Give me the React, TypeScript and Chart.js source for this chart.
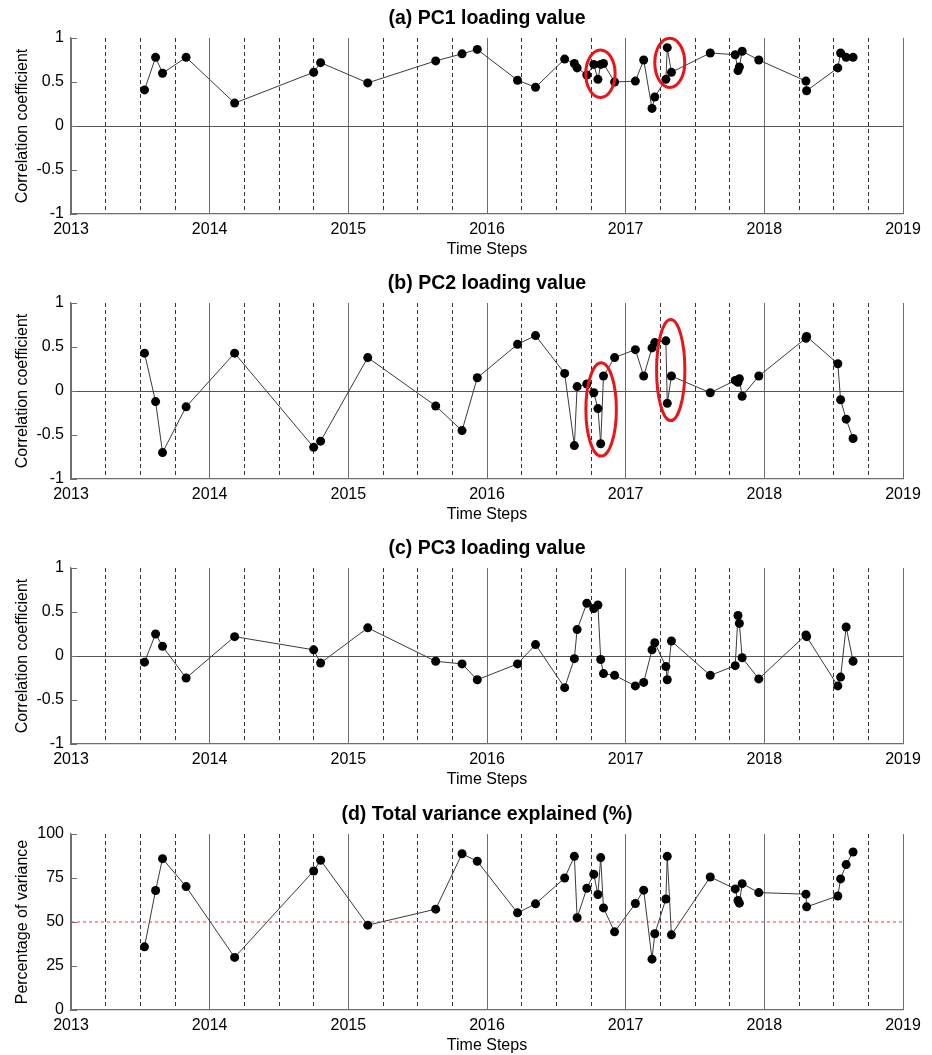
import React, { useEffect, useRef } from "react";
import { Chart, registerables } from "chart.js";

Chart.register(...registerables);

const FONT = "'Liberation Sans', Arial, Helvetica, sans-serif";

// Sampling dates (decimal years)
const dates = [
  2013.53, 2013.61, 2013.66, 2013.83, 2014.18, 2014.75, 2014.8, 2015.14, 2015.63, 2015.82, 2015.93,
  2016.22, 2016.35, 2016.56, 2016.63, 2016.65, 2016.72, 2016.77, 2016.8, 2016.82, 2016.84, 2016.92,
  2017.07, 2017.13, 2017.19, 2017.21, 2017.29, 2017.3, 2017.33, 2017.61, 2017.79, 2017.81, 2017.82,
  2017.84, 2017.96, 2018.3, 2018.305, 2018.53, 2018.55, 2018.59, 2018.64,
];

const pc1 = [
  0.41, 0.78, 0.6, 0.78, 0.26, 0.61, 0.72, 0.49, 0.74, 0.82, 0.87,
  0.52, 0.44, 0.76, 0.71, 0.66, 0.58, 0.7, 0.53, 0.7, 0.71, 0.5,
  0.51, 0.75, 0.2, 0.33, 0.53, 0.89, 0.61, 0.83, 0.81, 0.63, 0.67,
  0.85, 0.75, 0.51, 0.4, 0.66, 0.83, 0.78, 0.78,
];

const pc2 = [
  0.43, -0.12, -0.7, -0.18, 0.43, -0.64, -0.57, 0.38, -0.17, -0.45, 0.15,
  0.53, 0.63, 0.2, -0.62, 0.05, 0.08, -0.02, -0.2, -0.6, 0.17, 0.38,
  0.47, 0.17, 0.49, 0.55, 0.57, -0.14, 0.17, -0.02, 0.12, 0.1, 0.14,
  -0.06, 0.17, 0.6, 0.62, 0.31, -0.1, -0.32, -0.54,
];

const pc3 = [
  -0.07, 0.25, 0.11, -0.25, 0.22, 0.07, -0.08, 0.32, -0.06, -0.09, -0.27,
  -0.09, 0.13, -0.36, -0.03, 0.3, 0.6, 0.54, 0.58, -0.04, -0.2, -0.22,
  -0.34, -0.3, 0.07, 0.15, -0.12, -0.27, 0.17, -0.22, -0.11, 0.46, 0.37,
  -0.02, -0.26, 0.24, 0.22, -0.34, -0.24, 0.33, -0.06,
];

const varianceExplained = [
  35.9, 67.9, 86.0, 70.1, 29.9, 79.0, 85.1, 48.2, 57.3, 88.8, 84.5,
  55.2, 60.3, 75.0, 87.3, 52.4, 69.2, 77.1, 65.6, 86.6, 58.0, 44.4,
  60.5, 68.1, 28.9, 43.3, 63.1, 87.3, 42.7, 75.6, 68.8, 62.2, 60.7,
  71.8, 66.7, 65.8, 58.6, 64.8, 74.5, 82.6, 89.8,
];

const varianceThreshold = 50;

// x grid / tick positions (years solid, quarters dashed)
const xTickValues = [
  2013, 2013.25, 2013.5, 2013.75, 2014, 2014.25, 2014.5, 2014.75, 2015, 2015.25, 2015.5, 2015.75,
  2016, 2016.25, 2016.5, 2016.75, 2017, 2017.25, 2017.5, 2017.75, 2018, 2018.25, 2018.5, 2018.75, 2019,
];
const corrTicks = [-1, -0.5, 0, 0.5, 1];
const varTicks = [0, 25, 50, 75, 100];

// Highlight ellipses: [centerX, centerY, radiusX (years), radiusY (value units)]
const pc1Ellipses = [
  [2016.818, 0.595, 0.106, 0.27],
  [2017.318, 0.718, 0.108, 0.28],
];
const pc2Ellipses = [
  [2016.823, -0.21, 0.11, 0.53],
  [2017.325, 0.238, 0.102, 0.574],
];

const isYear = (v: any) => typeof v === "number" && Math.abs(v - Math.round(v)) < 1e-6;

const ellipsePlugin = {
  id: "ellipses",
  afterDatasetsDraw(chart: any, _args: any, opts: any) {
    const list = (opts && opts.items) || [];
    if (!list.length) return;
    const xs = chart.scales.x;
    const ys = chart.scales.y;
    const ctx = chart.ctx;
    ctx.save();
    ctx.strokeStyle = "#e8161b";
    ctx.lineWidth = 3;
    for (const e of list) {
      const cx = xs.getPixelForValue(e[0]);
      const cy = ys.getPixelForValue(e[1]);
      const rx = Math.abs(xs.getPixelForValue(e[0] + e[2]) - cx);
      const ry = Math.abs(ys.getPixelForValue(e[1] + e[3]) - cy);
      ctx.beginPath();
      ctx.ellipse(cx, cy, rx, ry, 0, 0, Math.PI * 2);
      ctx.stroke();
    }
    ctx.restore();
  },
};

// Panel title centred over the plot area (as in the MATLAB figure)
const panelTitlePlugin = {
  id: "panelTitle",
  afterDraw(chart: any, _args: any, opts: any) {
    if (!opts || !opts.text) return;
    const ctx = chart.ctx;
    const area = chart.chartArea;
    ctx.save();
    ctx.fillStyle = "#000";
    ctx.font = `bold ${opts.size}px ${FONT}`;
    ctx.textAlign = "center";
    ctx.textBaseline = "middle";
    ctx.fillText(opts.text, (area.left + area.right) / 2, opts.y);
    ctx.restore();
  },
};

type PanelProps = {
  top: number;
  title: string;
  values: number[];
  yMin: number;
  yMax: number;
  yTicks: number[];
  yTitle: string;
  zeroLine: boolean;
  threshold?: number;
  ellipses?: number[][];
};

function Panel(props: PanelProps) {
  const ref = useRef<HTMLCanvasElement | null>(null);

  useEffect(() => {
    if (!ref.current) return;
    const points = dates.map((d, i) => ({ x: d, y: props.values[i] }));
    const datasets: any[] = [
      {
        data: points,
        borderColor: "#3a3a3a",
        borderWidth: 1,
        pointRadius: 4.5,
        pointBackgroundColor: "#000",
        pointBorderColor: "#000",
        pointBorderWidth: 0,
        tension: 0,
        clip: false,
      },
    ];
    if (props.threshold !== undefined) {
      datasets.push({
        data: [
          { x: xTickValues[0], y: props.threshold },
          { x: xTickValues[xTickValues.length - 1], y: props.threshold },
        ],
        borderColor: "#ff3333",
        borderWidth: 1,
        borderDash: [3, 3],
        pointRadius: 0,
      });
    }
    const tickFont = { family: FONT, size: 16 };
    const chart = new Chart(ref.current, {
      type: "line",
      data: { datasets },
      plugins: [ellipsePlugin, panelTitlePlugin],
      options: {
        responsive: false,
        animation: false,
        layout: { padding: { left: 0, right: 29, top: 38, bottom: 0 } },
        plugins: {
          legend: { display: false },
          tooltip: { enabled: false },
          title: { display: false },
          panelTitle: { text: props.title, size: 19.5, y: 19 },
          ellipses: { items: props.ellipses || [] },
        } as any,
        scales: {
          x: {
            type: "linear",
            min: xTickValues[0],
            max: xTickValues[xTickValues.length - 1],
            afterBuildTicks: (s: any) => {
              s.ticks = xTickValues.map((v) => ({ value: v }));
            },
            afterFit: (s: any) => {
              s.height = 51;
            },
            ticks: {
              autoSkip: false,
              maxRotation: 0,
              minRotation: 0,
              padding: 6,
              color: "#000",
              font: tickFont,
              callback: (v: any) => (isYear(v) ? String(Math.round(v)) : ""),
            },
            grid: {
              drawTicks: false,
              lineWidth: 1,
              color: (c: any) => (c.tick && isYear(c.tick.value) ? "#6e6e6e" : "#333"),
            },
            border: {
              display: true,
              color: "#6e6e6e",
              width: 1.2,
              dash: (c: any) => (c.tick && !isYear(c.tick.value) ? [4, 3] : []),
            },
            title: {
              display: true,
              text: "Time Steps",
              color: "#000",
              font: { family: FONT, size: 16 },
              padding: { top: 0, bottom: 5.4 },
            },
          } as any,
          y: {
            type: "linear",
            min: props.yMin,
            max: props.yMax,
            afterBuildTicks: (s: any) => {
              s.ticks = props.yTicks.map((v) => ({ value: v }));
            },
            afterFit: (s: any) => {
              s.width = 71;
            },
            ticks: {
              padding: 13,
              color: "#000",
              font: tickFont,
              callback: (v: any) => String(v),
            },
            grid: {
              drawTicks: true,
              tickLength: -6,
              tickColor: "#6e6e6e",
              tickWidth: 1,
              color: (c: any) =>
                props.zeroLine && c.tick && c.tick.value === 0 ? "#555" : "rgba(0,0,0,0)",
            },
            border: { display: true, color: "#6e6e6e", width: 1.2 },
            title: {
              display: true,
              text: props.yTitle,
              color: "#000",
              font: { family: FONT, size: 16 },
              padding: { top: 13, bottom: 0 },
            },
          } as any,
        },
      },
    });
    return () => chart.destroy();
  }, []);

  return (
    <canvas
      ref={ref}
      width={932}
      height={265}
      style={{ position: "absolute", left: 0, top: props.top, width: 932, height: 265 }}
    />
  );
}

export default function App() {
  return (
    <div
      style={{
        position: "fixed",
        left: 0,
        top: 0,
        width: 932,
        height: 1055,
        overflow: "hidden",
        background: "#fff",
      }}
    >
      <Panel
        top={0}
        title="(a) PC1 loading value"
        values={pc1}
        yMin={-1}
        yMax={1}
        yTicks={corrTicks}
        yTitle="Correlation coefficient"
        zeroLine={true}
        ellipses={pc1Ellipses}
      />
      <Panel
        top={265}
        title="(b) PC2 loading value"
        values={pc2}
        yMin={-1}
        yMax={1}
        yTicks={corrTicks}
        yTitle="Correlation coefficient"
        zeroLine={true}
        ellipses={pc2Ellipses}
      />
      <Panel
        top={530}
        title="(c) PC3 loading value"
        values={pc3}
        yMin={-1}
        yMax={1}
        yTicks={corrTicks}
        yTitle="Correlation coefficient"
        zeroLine={true}
      />
      <Panel
        top={796}
        title="(d) Total variance explained (%)"
        values={varianceExplained}
        yMin={0}
        yMax={100}
        yTicks={varTicks}
        yTitle="Percentage of variance"
        zeroLine={false}
        threshold={varianceThreshold}
      />
    </div>
  );
}
